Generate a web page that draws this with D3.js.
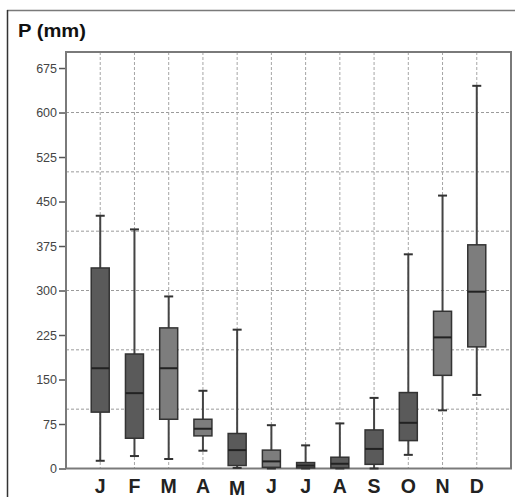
<!DOCTYPE html>
<html>
<head>
<meta charset="utf-8">
<script src="https://cdn.jsdelivr.net/npm/d3@7"></script>
<style>
  html, body { margin: 0; padding: 0; background: #fff; }
  svg { display: block; }
</style>
</head>
<body>
<svg id="chart" width="515" height="497"></svg>
<script>
// ---- data ----
const months = ["J", "F", "M", "A", "M", "J", "J", "A", "S", "O", "N", "D"];
const whiskerLow  = [13, 21, 16, 30, 1, 0, 0, 0, 0, 23, 98, 124];
const q1          = [95, 51, 83, 55, 5, 2, 1, 1, 7, 47, 157, 205];
const medians     = [169, 127, 169, 67, 31, 12, 5, 8, 33, 77, 221, 298];
const q3          = [338, 193, 237, 83, 59, 31, 10, 19, 65, 128, 265, 377];
const whiskerHigh = [426, 403, 290, 131, 234, 73, 39, 76, 119, 361, 460, 645];
const shade       = ["dark", "dark", "light", "light", "dark", "light", "dark", "dark", "dark", "dark", "light", "light"];
const yTicks = [0, 75, 150, 225, 300, 375, 450, 525, 600, 675];
const gridValues = [100, 200, 300, 400, 500, 600];
const yLabel = "P (mm)";

const data = months.map((m, i) => ({
  key: i, label: m, lo: whiskerLow[i], q1: q1[i], med: medians[i], q3: q3[i], hi: whiskerHigh[i], shade: shade[i]
}));

const svg = d3.select("#chart");
const L = 66, R = 511, T = 52, B = 468.5;

const x = d3.scalePoint().domain(data.map(d => d.key)).range([L, R]).padding(1);
const y = d3.scaleLinear().domain([0, 702]).range([B, T]);

// outer frame
svg.append("line").attr("x1", 7).attr("x2", 515).attr("y1", 10.5).attr("y2", 10.5)
  .attr("stroke", "#7a7a7a").attr("stroke-width", 1.5);
svg.append("line").attr("x1", 7.5).attr("x2", 7.5).attr("y1", 10).attr("y2", 497)
  .attr("stroke", "#333").attr("stroke-width", 1.5);

// title
svg.append("text").attr("x", 18).attr("y", 36.5)
  .attr("font-family", "Liberation Sans, Arial, sans-serif").attr("font-weight", "bold")
  .attr("font-size", 18.5).attr("fill", "#111")
  .attr("textLength", 68).attr("lengthAdjust", "spacingAndGlyphs")
  .text(yLabel);

// grid
const grid = svg.append("g");
grid.selectAll("line.h").data(gridValues).join("line")
  .attr("x1", L).attr("x2", R).attr("y1", d => y(d)).attr("y2", d => y(d))
  .attr("stroke", "#9a9a9a").attr("stroke-width", 1).attr("stroke-dasharray", "3,2");
grid.selectAll("line.v").data(data).join("line")
  .attr("x1", d => x(d.key)).attr("x2", d => x(d.key)).attr("y1", T).attr("y2", B)
  .attr("stroke", "#a5a5a5").attr("stroke-width", 1).attr("stroke-dasharray", "3,2");

// y axis
const yAxis = d3.axisLeft(y).tickValues(yTicks).tickSize(7).tickPadding(2).tickFormat(d3.format("d"));
const ya = svg.append("g").attr("transform", `translate(${L},0)`).call(yAxis);
ya.select(".domain").remove();
ya.selectAll(".tick line").attr("stroke", "#555").attr("stroke-width", 1.5);
ya.selectAll(".tick text").attr("font-family", "Liberation Sans, Arial, sans-serif")
  .attr("font-size", 12.5).attr("fill", "#444");

// plot frame
svg.append("rect").attr("x", L).attr("y", T).attr("width", R - L).attr("height", B - T)
  .attr("fill", "none").attr("stroke", "#7a7a7a").attr("stroke-width", 2);

// boxes
const bw = 18, cw = 9;
const g = svg.append("g").selectAll("g").data(data).join("g");
g.append("line").attr("x1", d => x(d.key)).attr("x2", d => x(d.key))
  .attr("y1", d => y(d.lo)).attr("y2", d => y(d.hi))
  .attr("stroke", "#444").attr("stroke-width", 2);
g.append("line").attr("x1", d => x(d.key) - cw / 2).attr("x2", d => x(d.key) + cw / 2)
  .attr("y1", d => y(d.hi)).attr("y2", d => y(d.hi))
  .attr("stroke", "#333").attr("stroke-width", 2);
g.append("line").attr("x1", d => x(d.key) - cw / 2).attr("x2", d => x(d.key) + cw / 2)
  .attr("y1", d => y(d.lo)).attr("y2", d => y(d.lo))
  .attr("stroke", "#333").attr("stroke-width", 2);
g.append("rect").attr("x", d => x(d.key) - bw / 2).attr("width", bw)
  .attr("y", d => y(d.q3)).attr("height", d => Math.max(1, y(d.q1) - y(d.q3)))
  .attr("fill", d => d.shade === "dark" ? "#5a5a5a" : "#7d7d7d")
  .attr("stroke", "#333").attr("stroke-width", 1.5);
g.append("line").attr("x1", d => x(d.key) - bw / 2).attr("x2", d => x(d.key) + bw / 2)
  .attr("y1", d => y(d.med)).attr("y2", d => y(d.med))
  .attr("stroke", "#222").attr("stroke-width", 2);

// x labels
svg.append("g").selectAll("text").data(data).join("text")
  .attr("x", d => x(d.key)).attr("y", (d, i) => i === 4 ? 494.5 : 493)
  .attr("text-anchor", "middle")
  .attr("font-family", "Liberation Sans, Arial, sans-serif").attr("font-weight", "bold")
  .attr("font-size", 19.5).attr("fill", "#222")
  .text(d => d.label);
</script>
</body>
</html>
